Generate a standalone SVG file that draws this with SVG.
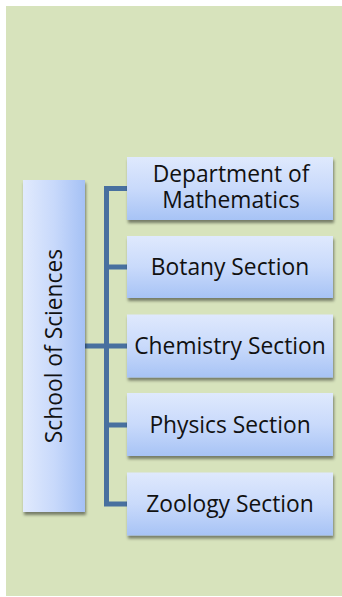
<svg xmlns="http://www.w3.org/2000/svg" width="342" height="597" viewBox="0 0 342 597">
<style>
.box{filter:url(#sh);}
.lbl{font-family:"Open Sans","Noto Sans","DejaVu Sans",sans-serif;font-size:22.8px;fill:#111;text-anchor:middle;}
.conn{fill:none;stroke:#48709f;stroke-width:5;stroke-linejoin:miter;stroke-linecap:butt;}
</style>
<defs>
<linearGradient id="gv" x1="0" y1="0" x2="0" y2="1">
<stop offset="0" stop-color="#dfe9fd"/>
<stop offset="0.5" stop-color="#c9dafb"/>
<stop offset="1" stop-color="#a7c3f5"/>
</linearGradient>
<linearGradient id="gh" x1="0" y1="0" x2="1" y2="0">
<stop offset="0" stop-color="#e1eafd"/>
<stop offset="0.5" stop-color="#c8d9fb"/>
<stop offset="1" stop-color="#a5c1f5"/>
</linearGradient>
<filter id="sh" x="-10%" y="-10%" width="130%" height="130%">
<feDropShadow dx="1" dy="3" stdDeviation="1.6" flood-color="#000" flood-opacity="0.45"/>
</filter>
</defs>
<rect x="6" y="6" width="336" height="590" fill="#d7e3bc"/>
<g id="connectors">
<path class="conn" d="M127,188.5 H106.5 V504 H127"/>
<path class="conn" d="M106.5,267 H127 M106.5,425 H127 M85,346 H127"/>
</g>
<g id="school">
<rect class="box" x="23" y="180" width="62" height="332" fill="url(#gh)"/>
<text class="lbl" transform="translate(62,346) rotate(-90)">School of Sciences</text>
</g>
<g id="math">
<rect class="box" x="127" y="157" width="206" height="63" fill="url(#gv)"/>
<text class="lbl"><tspan x="231" y="182">Department of</tspan><tspan x="231" y="208">Mathematics</tspan></text>
</g>
<g id="botany">
<rect class="box" x="127" y="236" width="206" height="62" fill="url(#gv)"/>
<text class="lbl" x="230" y="275">Botany Section</text>
</g>
<g id="chemistry">
<rect class="box" x="127" y="314.5" width="206" height="63" fill="url(#gv)"/>
<text class="lbl" x="230" y="354">Chemistry Section</text>
</g>
<g id="physics">
<rect class="box" x="127" y="393" width="206" height="63" fill="url(#gv)"/>
<text class="lbl" x="230" y="433">Physics Section</text>
</g>
<g id="zoology">
<rect class="box" x="127" y="472.5" width="206" height="63" fill="url(#gv)"/>
<text class="lbl" x="230" y="512">Zoology Section</text>
</g>
</svg>
